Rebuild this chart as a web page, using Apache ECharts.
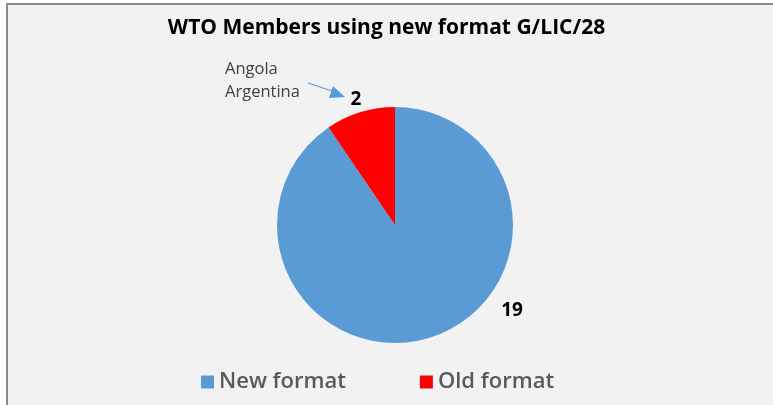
<!DOCTYPE html>
<html>
<head>
<meta charset="utf-8">
<script src="https://cdn.jsdelivr.net/npm/echarts@6/dist/echarts.min.js"></script>
<style>
html,body{margin:0;padding:0;background:#ffffff;width:773px;height:405px;overflow:hidden;}
#frame{position:absolute;left:6px;top:3px;width:767px;height:402px;background:#F2F2F2;border-top:2px solid #8a8a8a;border-left:2px solid #8a8a8a;box-sizing:border-box;}
#chart{position:absolute;left:0;top:0;width:773px;height:405px;}
</style>
</head>
<body>
<div id="frame"></div>
<div id="chart"></div>
<script>
const titleText = 'WTO Members using new format G/LIC/28';
const categories = ['New format', 'Old format'];
const values = [19, 2];
const colors = ['#5B9BD5', '#FF0000'];
const noteLines = ['Angola', 'Argentina'];

const chart = echarts.init(document.getElementById('chart'), null, {renderer: 'canvas'});
const option = {
  backgroundColor: 'transparent',
  animation: false,
  title: {
    text: titleText,
    left: 'center',
    top: 13,
    textStyle: {fontFamily: 'Open Sans', fontWeight: 'bold', fontSize: 21, color: '#000'}
  },
  legend: {
    data: categories,
    left: 196,
    top: 366,
    itemWidth: 13,
    itemHeight: 13,
    itemGap: 74,
    icon: 'rect',
    textStyle: {fontFamily: 'Open Sans', fontWeight: 600, fontSize: 22, color: '#595959', padding: [0, 0, 0, 0]}
  },
  graphic: [
    {type: 'text', left: 225, top: 58, style: {text: noteLines.join('\n'), font: '16.5px "Open Sans"', fill: '#404040', lineHeight: 23}},
    {type: 'line', shape: {x1: 308, y1: 83, x2: 335, y2: 92}, style: {stroke: '#5B9BD5', lineWidth: 1.2}},
    {type: 'polygon', shape: {points: [[345, 97], [333, 86], [329, 98]]}, style: {fill: '#5B9BD5'}}
  ],
  series: [{
    type: 'pie',
    center: [395, 225],
    radius: [0, 118],
    startAngle: 90,
    clockwise: true,
    data: categories.map((c, i) => ({name: c, value: values[i], itemStyle: {color: colors[i]}})),
    label: {
      show: true,
      position: 'outside',
      formatter: '{c}',
      fontFamily: 'Open Sans',
      fontWeight: 'bold',
      fontSize: 19,
      color: '#000'
    },
    labelLine: {show: false, length: 8, length2: 0},
    labelLayout: function (p) {
      if (p.dataIndex === 0) {
        return {x: 512, y: 311, align: 'center', verticalAlign: 'middle'};
      }
      return {x: 356, y: 100, align: 'center', verticalAlign: 'middle'};
    },
    emphasis: {disabled: true},
    silent: true
  }]
};
chart.setOption(option);
</script>
</body>
</html>
